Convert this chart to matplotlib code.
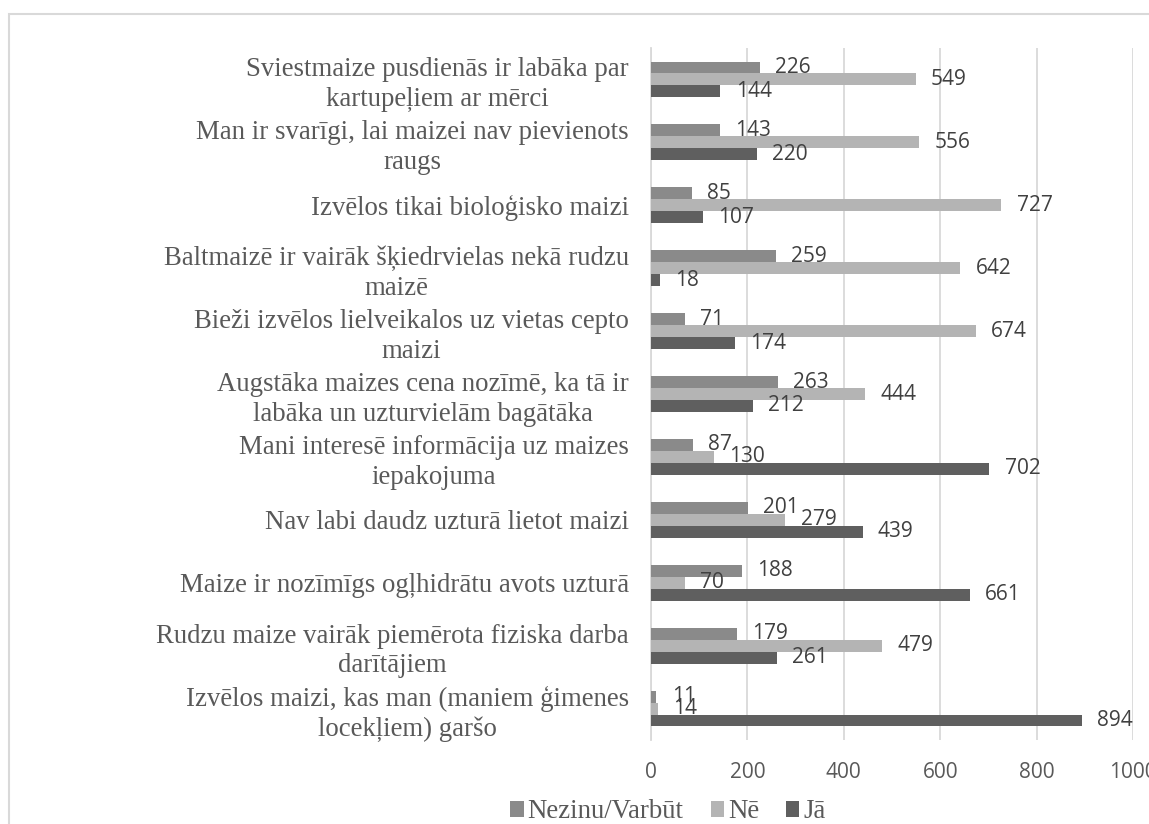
import matplotlib
matplotlib.use("Agg")
import matplotlib.pyplot as plt
import numpy as np
from matplotlib.patches import Rectangle

categories = [
    "Sviestmaize pusdienās ir labāka par\nkartupeļiem ar mērci",
    "Man ir svarīgi, lai maizei nav pievienots\nraugs",
    "Izvēlos tikai bioloģisko maizi",
    "Baltmaizē ir vairāk šķiedrvielas nekā rudzu\nmaizē",
    "Bieži izvēlos lielveikalos uz vietas cepto\nmaizi",
    "Augstāka maizes cena nozīmē, ka tā ir\nlabāka un uzturvielām bagātāka",
    "Mani interesē informācija uz maizes\niepakojuma",
    "Nav labi daudz uzturā lietot maizi",
    "Maize ir nozīmīgs ogļhidrātu avots uzturā",
    "Rudzu maize vairāk piemērota fiziska darba\ndarītājiem",
    "Izvēlos maizi, kas man (maniem ģimenes\nlocekļiem) garšo",
]
nezinu = [226, 143, 85, 259, 71, 263, 87, 201, 188, 179, 11]
ne = [549, 556, 727, 642, 674, 444, 130, 279, 70, 479, 14]
ja = [144, 220, 107, 18, 174, 212, 702, 439, 661, 261, 894]
series_names = ["Nezinu/Varbūt", "Nē", "Jā"]
xticks = [0, 200, 400, 600, 800, 1000]

colors = ["#8a8a8a", "#b4b4b4", "#5f5f5f"]

fig = plt.figure(figsize=(11.49, 8.24), dpi=100)
ax = fig.add_axes([651/1149, 1-740/824, 482/1149, 692/824])

y = np.arange(len(categories))
h = 0.19
offsets = [-h, 0, h]
handles = []
for vals, off, c, name in zip([nezinu, ne, ja], offsets, colors, series_names):
    bars = ax.barh(y + off, vals, height=h, color=c, label=name, zorder=3)
    handles.append(bars)
    for yy, v in zip(y + off, vals):
        ax.annotate(str(v), xy=(v, yy), xytext=(11, 0), textcoords="offset points",
                    ha="left", va="center", fontsize=15, color="#404040",
                    family="Open Sans", zorder=4)

ax.set_ylim(len(categories) - 0.5, -0.5)
ax.set_xlim(0, 1000)
ax.set_xticks(xticks)
ax.set_xticklabels([str(t) for t in xticks], family="Open Sans", fontsize=15, color="#595959")
ax.set_yticks(y)
ax.set_yticklabels(categories, family="Liberation Serif", fontsize=19.3, color="#595959")
for lab in ax.get_yticklabels():
    lab.set_multialignment("center")
    lab.set_linespacing(1.25)
ax.tick_params(axis="y", length=0, pad=16)
ax.tick_params(axis="x", length=0, pad=16)
ax.grid(axis="x", color="#d9d9d9", linewidth=1.3, zorder=0)
for s in ["top", "right", "bottom"]:
    ax.spines[s].set_visible(False)
ax.spines["left"].set_color("#d9d9d9")
ax.spines["left"].set_linewidth(1.3)

leg = fig.legend(handles=handles, labels=series_names, loc="center", bbox_to_anchor=(668/1149, 1-812/824),
                 ncol=3, frameon=False, prop={"family": "Liberation Serif", "size": 19.3},
                 handlelength=0.5, handleheight=0.5, handletextpad=0.15, columnspacing=1.0,
                 borderpad=0)
for t in leg.get_texts():
    t.set_color("#595959")

fig.patches.append(Rectangle((8.5/1149, -0.1), 1.2, 1 - 14/824 + 0.1, transform=fig.transFigure,
                             fill=False, edgecolor="#d9d9d9", linewidth=1.5))

fig.savefig("out.png", dpi=100)
